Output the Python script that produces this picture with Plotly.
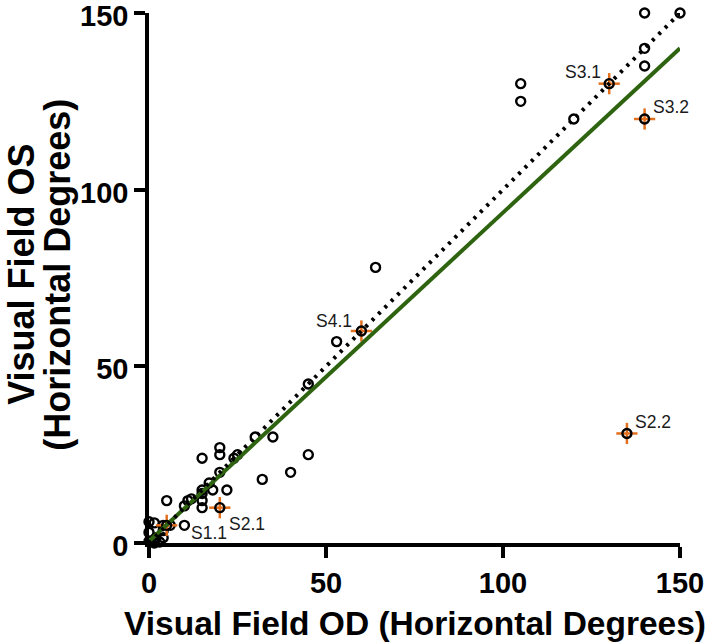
import plotly.graph_objects as go

# ---- data (Visual Field OD vs OS, horizontal degrees) ----
od = [0, 1.5, 0, 4, 6, 4, 0, 1.5, 3, 4, 2, 10,
      5, 10, 11, 12, 15, 15, 15, 15, 18, 22, 17, 20,
      15, 20, 20, 24, 25, 30, 35, 32, 40, 45, 45, 53, 64,
      105, 105, 120, 140, 150, 140, 140]
os_ = [6, 5.7, 3, 5, 5, 3.5, 0.5, 0, 0.3, 1.5, 1.5, 5,
       12, 10.5, 12, 12.5, 15, 14, 12, 10, 15, 15, 17, 20,
       24, 27, 25, 24, 25, 30, 30, 18, 20, 25, 45, 57, 78,
       130, 125, 120, 150, 150, 140, 135]

sub_labels = ["S1.1", "S2.1", "S2.2", "S3.1", "S3.2", "S4.1"]
sub_od = [5, 20, 135, 130, 140, 60]
sub_os = [5, 10, 31, 130, 120, 60]
sub_err = [3, 3, 3, 3, 3, 3]

identity_x = [0, 150]
identity_y = [0, 150]
fit_x = [0, 150]
fit_y = [0.5, 140]

ticks = [0, 50, 100, 150]

# label offsets (pixels) and anchors for annotations
lab_dx = [22, 7, 6, -6, 6, -7]
lab_dy = [-8, -16, 11, 12, 12, 10]
lab_anchor = ["left", "left", "left", "right", "left", "right"]

FONT = "Liberation Sans, Arial, Helvetica, sans-serif"

fig = go.Figure()

fig.add_trace(go.Scatter(
    x=od, y=os_, mode="markers",
    marker=dict(symbol="circle-open", size=9, color="black", line=dict(width=2.4)),
    cliponaxis=False, showlegend=False))

fig.add_trace(go.Scatter(
    x=sub_od, y=sub_os, mode="markers",
    marker=dict(symbol="circle-open", size=9, color="black", line=dict(width=2.4)),
    error_x=dict(type="data", array=sub_err, color="#e2701f", thickness=2.5, width=0),
    error_y=dict(type="data", array=sub_err, color="#e2701f", thickness=2.5, width=0),
    cliponaxis=False, showlegend=False))

fig.add_trace(go.Scatter(
    x=fit_x, y=fit_y, mode="lines",
    line=dict(color="#2e6410", width=4),
    cliponaxis=False, showlegend=False))

fig.add_trace(go.Scatter(
    x=identity_x, y=identity_y, mode="lines",
    line=dict(color="black", width=4, dash="3px,6px"),
    cliponaxis=False, showlegend=False))

for lab, x, y, dx, dy, anc in zip(sub_labels, sub_od, sub_os, lab_dx, lab_dy, lab_anchor):
    fig.add_annotation(x=x, y=y, text=lab, showarrow=False, xanchor=anc, yanchor="middle",
                       xshift=dx, yshift=dy,
                       font=dict(family=FONT, size=17.5, color="#1a1a1a"))

# axis titles
fig.add_annotation(xref="paper", yref="paper", x=0.5, y=-0.151, text="Visual Field OD (Horizontal Degrees)",
                   showarrow=False, xanchor="center", yanchor="middle",
                   font=dict(family=FONT, size=33.5, color="black", weight="bold"))
fig.add_annotation(xref="paper", yref="paper", x=(22 - 149) / 531, y=0.506, text="Visual Field OS",
                   showarrow=False, xanchor="center", yanchor="middle", textangle=-90,
                   font=dict(family=FONT, size=36, color="black", weight="bold"))
fig.add_annotation(xref="paper", yref="paper", x=(58 - 149) / 531, y=0.506, text="(Horizontal Degrees)",
                   showarrow=False, xanchor="center", yanchor="middle", textangle=-90,
                   font=dict(family=FONT, size=36, color="black", weight="bold"))

# axis overhangs (Prism style)
fig.add_shape(type="line", xref="paper", yref="paper", x0=-0.018, x1=0, y0=0, y1=0,
              line=dict(color="black", width=3.5))
fig.add_shape(type="line", xref="paper", yref="paper", x0=0, x1=0, y0=-0.024, y1=0,
              line=dict(color="black", width=3.5))

axis_common = dict(range=[0, 150], showgrid=False, zeroline=False, showline=True,
                   linecolor="black", linewidth=3.5, ticks="outside", ticklen=11,
                   tickwidth=3.5, tickcolor="black", tickvals=ticks,
                   ticklabeloverflow="allow", automargin=False,
                   tickfont=dict(family=FONT, size=29, color="black", weight="bold"))

fig.update_layout(
    width=709, height=643,
    margin=dict(l=149, r=29, t=13, b=100, autoexpand=False),
    plot_bgcolor="white", paper_bgcolor="white",
    xaxis=axis_common, yaxis=axis_common,
)
fig.update_yaxes(ticklabelshift=3)

fig.write_html("out.html", config={"displayModeBar": False},
               post_script="document.body.style.margin='0px';")
